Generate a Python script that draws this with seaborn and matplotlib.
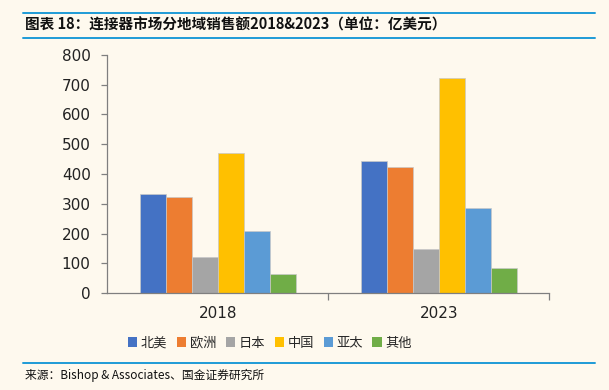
import pandas as pd
import numpy as np
import matplotlib.pyplot as plt
import seaborn as sns
from matplotlib.lines import Line2D
from matplotlib.patches import Patch
from matplotlib.ticker import FixedLocator

years = ['2018', '2023']
regions = ['北美', '欧洲', '日本', '中国', '亚太', '其他']
sales_2018 = [332, 323, 122, 472, 210, 64]
sales_2023 = [444, 425, 149, 723, 286, 85]
colors = ['#4472C4', '#ED7D31', '#A5A5A5', '#FFC000', '#5B9BD5', '#70AD47']

df = pd.DataFrame({
    'year': ['2018'] * 6 + ['2023'] * 6,
    'region': regions * 2,
    'sales': sales_2018 + sales_2023,
})

sns.set_theme(style='white')
plt.rcParams['font.family'] = ['Noto Sans CJK SC', 'DejaVu Sans']
bg = '#FEF9EE'
line_c = '#1E9BD7'

fig = plt.figure(figsize=(6.09, 3.90), dpi=100, facecolor=bg)
ax = fig.add_axes([107.3/609, 1-293.3/390, (549.3-107.3)/609, (293.3-54.7)/390])
ax.set_facecolor(bg)

sns.barplot(data=df, x='year', y='sales', hue='region', order=years, hue_order=regions,
            palette=colors, width=0.706, gap=0, saturation=1, edgecolor='#c8c8c8',
            linewidth=0.5, ax=ax, legend=False)

ax.set_ylim(0, 800)
ax.set_xlim(-0.5, 1.5)
ax.set_yticks(range(0, 801, 100))
ax.set_xlabel('')
ax.set_ylabel('')
for s in ['top', 'right']:
    ax.spines[s].set_visible(False)
for s in ['left', 'bottom']:
    ax.spines[s].set_color('#7f7f7f')
    ax.spines[s].set_linewidth(0.9)
ax.tick_params(axis='y', which='major', left=True, length=4, width=0.9, color='#7f7f7f',
               labelsize=11, labelcolor='#222222', pad=8)
ax.tick_params(axis='x', which='major', bottom=False, labelsize=11, labelcolor='#222222', pad=3)
ax.xaxis.set_minor_locator(FixedLocator([0.5, 1.5]))
ax.tick_params(axis='x', which='minor', bottom=True, length=5, width=0.9, color='#7f7f7f')
for lab in ax.get_xticklabels() + ax.get_yticklabels():
    lab.set_family('DejaVu Sans')

handles = [Patch(facecolor=c, edgecolor='none') for c in colors]
fig.legend(handles, regions, loc='center', bbox_to_anchor=(270/609, 1-343/390), ncol=6,
           frameon=False, fontsize=9.5, handlelength=0.7, handleheight=0.7,
           handletextpad=0.3, columnspacing=0.7)

# header / footer rules
for y in [13, 38, 363]:
    fig.add_artist(Line2D([23/609, 595/609], [1-y/390, 1-y/390], color=line_c, lw=1.4,
                          transform=fig.transFigure))

fig.text(25/609, 1-25/390, '图表 18：连接器市场分地域销售额2018&2023（单位：亿美元）',
         fontsize=10.5, fontweight='bold', fontstyle='italic', va='center', ha='left', color='#111111')
fig.text(25/609, 1-375/390, '来源：Bishop & Associates、国金证券研究所',
         fontsize=8.5, va='center', ha='left', color='#111111')

fig.savefig('out.png', dpi=100, facecolor=bg)
